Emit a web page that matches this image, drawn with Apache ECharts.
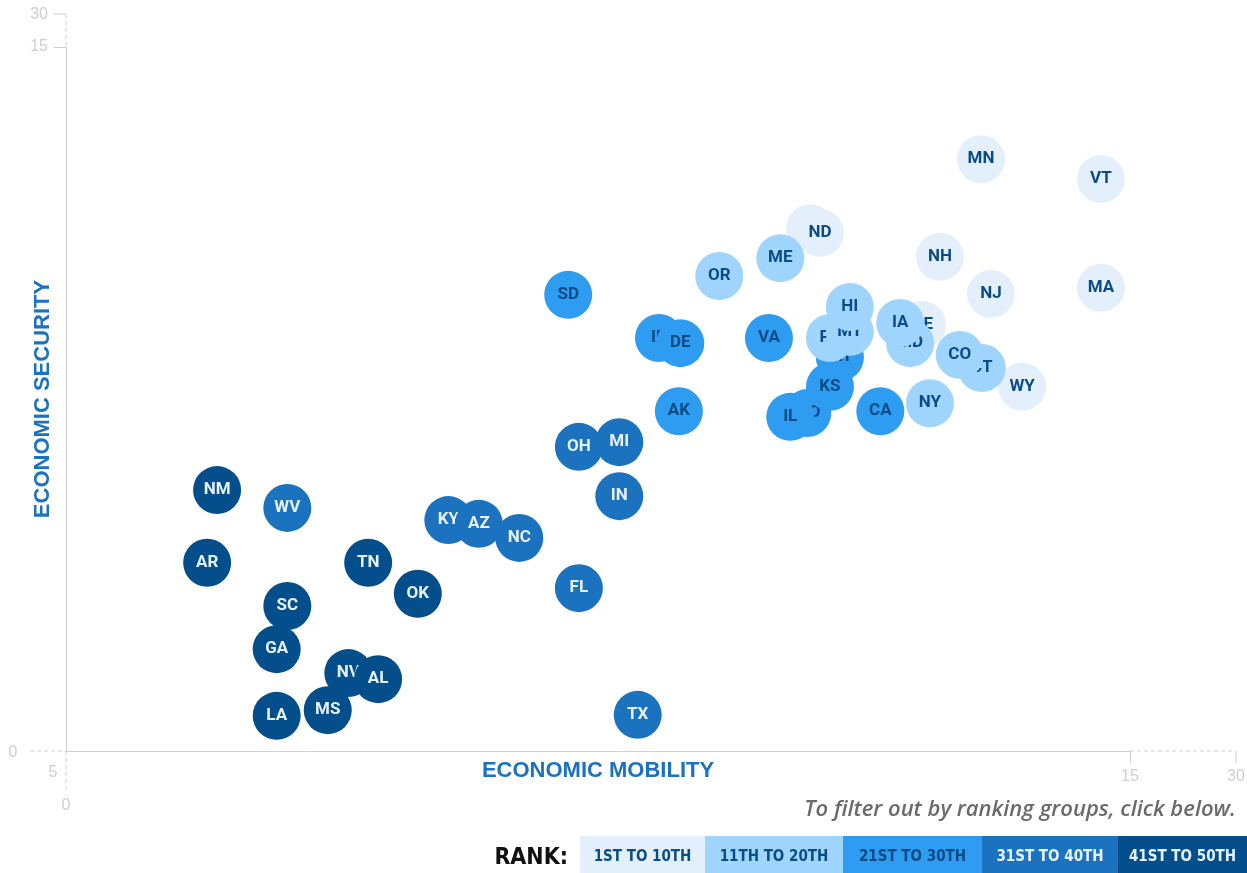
<!DOCTYPE html>
<html>
<head>
<meta charset="utf-8">
<script src="https://cdn.jsdelivr.net/npm/echarts@6/dist/echarts.min.js"></script>
<style>
html, body { margin: 0; padding: 0; background: #fff; }
#main { width: 1247px; height: 873px; }
</style>
</head>
<body>
<div id="main"></div>
<script>
// state codes, in drawing order (later ones sit on top)
const states = [
  'MN', 'VT', 'NH', 'NJ', 'MA', 'WY', 'UT', 'ND', 'NE',
  'OR', 'ME', 'WI', 'PA', 'MT', 'HI', 'MD', 'IA', 'CT', 'CO', 'NY',
  'SD', 'ID', 'DE', 'VA', 'MO', 'IL', 'KS', 'CA', 'AK',
  'OH', 'MI', 'IN', 'KY', 'AZ', 'NC', 'FL', 'TX', 'WV',
  'NM', 'AR', 'TN', 'OK', 'SC', 'GA', 'NV', 'AL', 'MS', 'LA'
];
const mobility = [
  12.90, 14.59, 12.32, 13.04, 14.59, 13.48, 10.49, 10.63, 12.07,
  9.21, 10.07, 10.91, 10.77, 11.05, 11.05, 11.90, 11.76, 12.91, 12.60, 12.18,
  7.08, 8.36, 8.66, 9.91, 10.45, 10.21, 10.77, 11.48, 8.64,
  7.23, 7.80, 7.80, 5.39, 5.82, 6.39, 7.23, 8.06, 3.12,
  2.13, 1.99, 4.26, 4.96, 3.12, 2.97, 3.98, 4.40, 3.69, 2.97
];
const security = [
  12.61, 12.19, 10.53, 9.74, 9.87, 7.76, 11.14, 11.04, 9.08,
  10.12, 10.50, 8.39, 8.80, 8.93, 9.46, 8.69, 9.12, 8.16, 8.44, 7.41,
  9.72, 8.80, 8.69, 8.80, 7.20, 7.12, 7.76, 7.24, 7.24,
  6.48, 6.58, 5.43, 4.92, 4.84, 4.54, 3.47, 0.77, 5.18,
  5.56, 4.01, 4.01, 3.35, 3.09, 2.17, 1.66, 1.53, 0.87, 0.75
];
// 0 = 1st-10th ... 4 = 41st-50th
const rankGroup = [
  0, 0, 0, 0, 0, 0, 0, 0, 0,
  1, 1, 2, 1, 1, 1, 1, 1, 1, 1, 1,
  2, 2, 2, 2, 2, 2, 2, 2, 2,
  3, 3, 3, 3, 3, 3, 3, 3, 3,
  4, 4, 4, 4, 4, 4, 4, 4, 4, 4
];
const rankLabels = ['1ST TO 10TH', '11TH TO 20TH', '21ST TO 30TH', '31ST TO 40TH', '41ST TO 50TH'];
const rankColors = ['#e3f0fc', '#9fd4fd', '#2e9cf1', '#1b72bf', '#044f8b'];
const labelColors = ['#0b4c86', '#0b4c86', '#0b4c86', '#e6f2fd', '#e6f2fd'];
const axisTicks = [15];
const extraTicks = [30];

var myChart = echarts.init(document.getElementById('main'));

var pts = states.map(function (s, i) {
  return [mobility[i], security[i], rankGroup[i], i];
});

function renderItem(params, api) {
  var p = api.coord([api.value(0), api.value(1)]);
  var g = api.value(2);
  var i = api.value(3);
  return {
    type: 'group',
    children: [
      {
        type: 'circle',
        z2: i * 2,
        shape: { cx: p[0], cy: p[1], r: 24 },
        style: { fill: rankColors[g] }
      },
      {
        type: 'text',
        z2: i * 2 + 1,
        x: p[0],
        y: p[1],
        style: {
          text: states[i],
          fill: labelColors[g],
          font: 'bold 17px Roboto',
          align: 'center',
          verticalAlign: 'middle'
        }
      }
    ]
  };
}

var grey = '#cfcfcf';
var dash = [4, 3];
var titleFont = { color: '#1b72bf', fontSize: 22, fontWeight: 'bold', fontFamily: 'Liberation Sans' };

// legend boxes along the bottom
var legendWidths = [125, 138, 139, 136, 129];
var legendEls = [];
var lx = 580;
rankLabels.forEach(function (t, i) {
  legendEls.push({
    type: 'rect', silent: true,
    shape: { x: lx, y: 836, width: legendWidths[i], height: 37 },
    style: { fill: rankColors[i] }
  });
  legendEls.push({
    type: 'text', silent: true,
    x: lx + legendWidths[i] / 2, y: 857,
    style: {
      text: t, fill: labelColors[i],
      font: 'bold 15px "Liberation Sans Narrow", "DejaVu Sans Condensed", sans-serif',
      align: 'center', verticalAlign: 'middle'
    }
  });
  lx += legendWidths[i];
});

var option = {
  animation: false,
  grid: { left: 66, right: 117, top: 47, bottom: 122, outerBoundsMode: 'none', containLabel: false },
  xAxis: {
    type: 'value', min: 0, max: 15,
    name: 'ECONOMIC MOBILITY', nameLocation: 'middle', nameGap: 9, nameMoveOverlap: false,
    nameTextStyle: Object.assign({ verticalAlign: 'top' }, titleFont),
    axisLine: { show: true, lineStyle: { color: grey } },
    axisTick: { show: true, length: 12, customValues: axisTicks, lineStyle: { color: grey } },
    axisLabel: { customValues: axisTicks, margin: 18, color: grey, fontSize: 16, fontFamily: 'Liberation Sans' },
    splitLine: { show: false }
  },
  yAxis: {
    type: 'value', min: 0, max: 15,
    name: 'ECONOMIC SECURITY', nameLocation: 'middle', nameGap: 12, nameMoveOverlap: false,
    nameTextStyle: titleFont,
    axisLine: { show: true, lineStyle: { color: grey } },
    axisTick: { show: true, length: 12, customValues: axisTicks, lineStyle: { color: grey } },
    axisLabel: { customValues: axisTicks, margin: 18, color: grey, fontSize: 16, fontFamily: 'Liberation Sans' },
    splitLine: { show: false }
  },
  series: [{
    type: 'custom',
    renderItem: renderItem,
    encode: { x: 0, y: 1 },
    data: pts
  }],
  graphic: [
    // y axis extension up to 30
    { type: 'line', silent: true, shape: { x1: 66, y1: 14, x2: 66, y2: 47 }, style: { stroke: grey, lineDash: dash } },
    { type: 'line', silent: true, shape: { x1: 54, y1: 14, x2: 66, y2: 14 }, style: { stroke: grey } },
    { type: 'text', silent: true, x: 48, y: 15, style: { text: String(extraTicks[0]), fill: grey, font: '16px "Liberation Sans"', align: 'right', verticalAlign: 'middle' } },
    // x axis extension out to 30
    { type: 'line', silent: true, shape: { x1: 1130, y1: 751, x2: 1236, y2: 751 }, style: { stroke: grey, lineDash: dash } },
    { type: 'line', silent: true, shape: { x1: 1236, y1: 751, x2: 1236, y2: 763 }, style: { stroke: grey } },
    { type: 'text', silent: true, x: 1236, y: 777, style: { text: String(extraTicks[0]), fill: grey, font: '16px "Liberation Sans"', align: 'center', verticalAlign: 'middle' } },
    // stray origin marks
    { type: 'line', silent: true, shape: { x1: 30, y1: 751, x2: 66, y2: 751 }, style: { stroke: grey, lineDash: dash } },
    { type: 'line', silent: true, shape: { x1: 66, y1: 751, x2: 66, y2: 789 }, style: { stroke: grey, lineDash: dash } },
    { type: 'text', silent: true, x: 13, y: 753, style: { text: '0', fill: grey, font: '16px "Liberation Sans"', align: 'center', verticalAlign: 'middle' } },
    { type: 'text', silent: true, x: 53, y: 773, style: { text: '5', fill: grey, font: '16px "Liberation Sans"', align: 'center', verticalAlign: 'middle' } },
    { type: 'text', silent: true, x: 66, y: 806, style: { text: '0', fill: grey, font: '16px "Liberation Sans"', align: 'center', verticalAlign: 'middle' } },
    // filter hint + legend
    { type: 'text', silent: true, x: 1236, y: 810, style: { text: 'To filter out by ranking groups, click below.', fill: '#6b6b6b', font: 'italic 600 22px "Open Sans"', align: 'right', verticalAlign: 'middle' } },
    { type: 'text', silent: true, x: 568, y: 858, style: { text: 'RANK:', fill: '#111111', font: 'bold 23px "Liberation Sans Narrow", "DejaVu Sans Condensed", sans-serif', align: 'right', verticalAlign: 'middle' } }
  ].concat(legendEls)
};

myChart.setOption(option);
</script>
</body>
</html>
